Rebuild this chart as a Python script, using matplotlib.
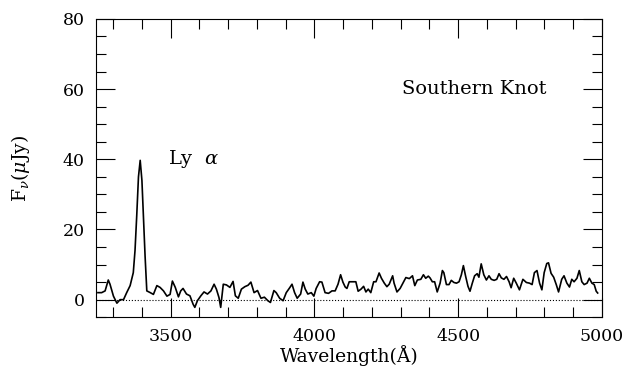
import matplotlib
matplotlib.use('Agg')
import matplotlib.pyplot as plt
from matplotlib.ticker import MultipleLocator

# spectrum (wavelength in Angstrom, flux in microJy)
wavelength = [3247, 3260, 3272, 3283, 3289, 3301, 3313, 3324, 3336, 3347,
              3359, 3370, 3376, 3382, 3388, 3394, 3400, 3405, 3411, 3417,
              3429, 3440, 3452, 3463, 3475, 3487, 3498, 3506, 3516, 3527,
              3535, 3543, 3555, 3567, 3578, 3584, 3593, 3605, 3616, 3628,
              3640, 3651, 3659, 3668, 3674, 3683, 3694, 3706, 3717, 3725,
              3735, 3746, 3758, 3769, 3779, 3790, 3802, 3814, 3826, 3838,
              3847, 3859, 3867, 3879, 3891, 3902, 3914, 3922, 3931, 3940,
              3952, 3960, 3968, 3977, 3989, 3998, 4006, 4018, 4026, 4037,
              4049, 4061, 4072, 4082, 4091, 4099, 4107, 4113, 4121, 4132,
              4144, 4152, 4162, 4171, 4179, 4187, 4196, 4206, 4214, 4225,
              4233, 4243, 4252, 4260, 4272, 4277, 4287, 4298, 4310, 4318,
              4330, 4341, 4349, 4358, 4370, 4379, 4387, 4396, 4402, 4410,
              4418, 4427, 4437, 4445, 4450, 4459, 4468, 4476, 4485, 4494,
              4503, 4511, 4518, 4526, 4534, 4541, 4549, 4557, 4566, 4572,
              4580, 4589, 4598, 4607, 4615, 4625, 4634, 4642, 4650, 4659,
              4668, 4677, 4684, 4693, 4702, 4713, 4725, 4737, 4748, 4757,
              4765, 4774, 4783, 4791, 4799, 4808, 4814, 4823, 4832, 4841,
              4849, 4860, 4868, 4878, 4887, 4895, 4903, 4913, 4921, 4930,
              4938, 4948, 4956, 4965, 4973, 4980, 4985]
flux = [2.0, 2.0, 2.5, 5.6, 4.4, 1.0, -1.0, 0.0, 0.0, 2.0,
        4.0, 7.7, 14, 24, 35, 39.7, 34, 24, 12.4, 2.5,
        2.0, 1.5, 4.0, 3.5, 2.5, 1.0, 1.5, 5.3, 3.5, 0.8,
        2.5, 3.2, 1.6, 1.1, -1.3, -2.2, -0.3, 1.1, 2.2, 1.6,
        2.5, 4.4, 3.0, 0.6, -2.2, 4.4, 4.2, 3.5, 5.2, 1.1,
        0.4, 3.0, 3.7, 4.1, 5.0, 2.0, 2.6, 0.4, 0.7, -0.3,
        -0.8, 2.6, 2.0, 0.4, -0.3, 2.0, 3.4, 4.4, 2.0, 0.4,
        1.6, 5.0, 3.0, 1.6, 2.0, 1.0, 3.2, 5.1, 5.0, 2.0,
        1.8, 2.5, 2.5, 4.4, 7.1, 5.0, 3.6, 3.2, 5.1, 5.1,
        5.1, 2.4, 3.0, 3.8, 2.2, 3.0, 2.0, 5.1, 5.1, 7.6,
        6.1, 4.7, 3.7, 4.4, 6.8, 4.7, 2.2, 3.2, 5.1, 6.3,
        6.0, 6.8, 4.0, 5.6, 5.8, 7.1, 6.1, 6.7, 6.2, 5.1,
        5.1, 2.2, 4.7, 8.3, 7.7, 4.3, 4.3, 5.5, 4.9, 4.7,
        5.1, 7.1, 9.7, 6.6, 3.8, 2.4, 4.7, 6.8, 7.4, 6.4,
        10.2, 7.1, 5.6, 6.8, 5.8, 5.5, 5.8, 7.4, 6.2, 5.8,
        6.6, 5.1, 3.4, 6.1, 4.7, 2.8, 5.8, 4.9, 4.7, 4.3,
        7.7, 8.3, 4.7, 2.8, 7.7, 10.3, 10.5, 7.5, 6.4, 4.3,
        2.2, 5.8, 6.8, 4.7, 3.6, 5.8, 5.1, 6.1, 8.3, 5.1,
        4.3, 4.7, 6.1, 4.7, 4.3, 2.4, 1.9]

plt.rcParams['font.family'] = 'DejaVu Serif'
plt.rcParams['mathtext.fontset'] = 'dejavuserif'

fig = plt.figure(figsize=(6.31, 3.71), dpi=100)
ax = fig.add_axes([0.152, 0.145, 0.802, 0.804])

ax.plot(wavelength, flux, color='black', linewidth=1.2)
ax.axhline(0, color='black', linestyle=':', linewidth=0.8)

ax.set_xlim(3240, 5000)
ax.set_ylim(-5, 80)

ax.xaxis.set_major_locator(MultipleLocator(500))
ax.xaxis.set_minor_locator(MultipleLocator(100))
ax.yaxis.set_major_locator(MultipleLocator(20))
ax.yaxis.set_minor_locator(MultipleLocator(5))
ax.tick_params(which='both', direction='in', top=True, right=True, width=0.8)
ax.tick_params(which='major', length=14, labelsize=12.5, pad=8)
ax.tick_params(which='minor', length=7)
for s in ax.spines.values():
    s.set_linewidth(0.8)

ax.text(4305, 60, 'Southern Knot', fontsize=14, va='center', ha='left')
ax.text(3490, 40, r'Ly  $\alpha$', fontsize=14, va='center', ha='left')

ax.set_xlabel('Wavelength(Å)', fontsize=13.5, labelpad=0)
ax.set_ylabel(r'F$_\nu$($\mu$Jy)', fontsize=13.5, labelpad=22)

fig.savefig('out.png', dpi=100)
